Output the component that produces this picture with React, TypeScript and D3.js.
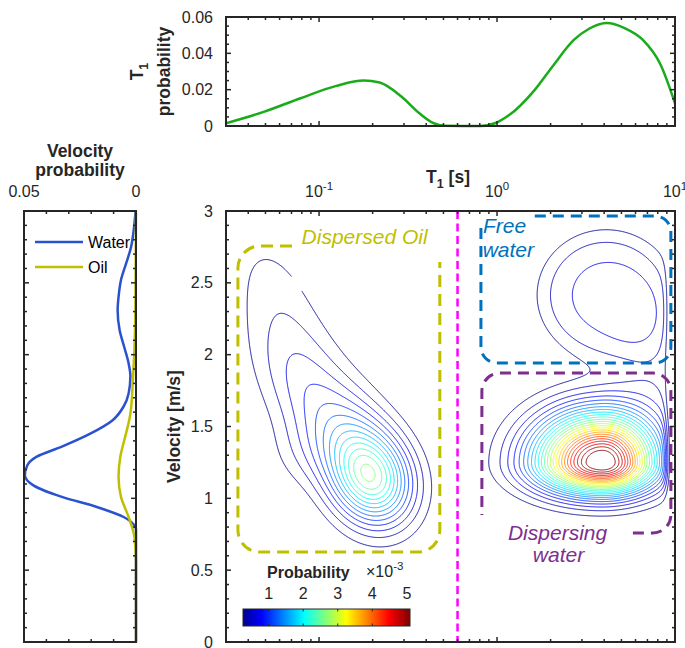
import React, { useMemo } from 'react';
import * as d3 from 'd3';

// ---------- data ----------
// T1 marginal (top panel)
const t1Values = [0.03, 0.0493, 0.0787, 0.125, 0.178, 0.219, 0.29, 0.366, 0.441, 0.507, 0.807, 0.972, 1.17, 1.63, 2.05, 2.71, 3.27, 4.13, 5.21, 6.58, 8.3, 10.0];
const t1Prob = [0.0015, 0.0079, 0.0153, 0.0221, 0.025, 0.0239, 0.0162, 0.007, 0.0015, 0.0002, 0.0, 0.0015, 0.006, 0.0199, 0.0328, 0.0475, 0.0534, 0.0567, 0.0539, 0.0475, 0.0337, 0.0125];

// velocity marginals (left panel), velocity ascending
const waterVel = [0, 0.7, 0.78, 0.8, 0.87, 0.94, 1.01, 1.09, 1.16, 1.23, 1.29, 1.36, 1.45, 1.54, 1.64, 1.73, 1.85, 1.94, 2.05, 2.17, 2.31, 2.4, 2.52, 2.64, 2.75, 2.87, 2.98, 3.0];
const waterProb = [0, 0, 0, 0.0003, 0.0055, 0.0175, 0.0331, 0.0458, 0.0496, 0.0485, 0.0443, 0.0331, 0.0204, 0.0107, 0.0055, 0.0033, 0.0025, 0.0033, 0.0052, 0.0073, 0.0082, 0.0078, 0.0067, 0.0043, 0.0022, 0.001, 0.0003, 0.0002];
const oilVel = [0, 0.55, 0.73, 0.87, 1.01, 1.15, 1.29, 1.43, 1.59, 1.85, 2.0, 2.2, 2.5, 3.0];
const oilProb = [0, 0, 0.0007, 0.0033, 0.0067, 0.0078, 0.007, 0.0048, 0.0025, 0.0013, 0.0008, 0.0004, 0.0002, 0];

// joint density peaks (x10^-3): centre in log10(T1) & velocity, spreads left/right (decades), down/up (m/s)
const peaks = [
  { name: 'oil core', logT1: -0.705, vel: 1.139, wL: 0.1585, wR: 0.1585, hD: 0.2234, hU: 0.2234, rho: -0.152, amp: 2.35, shape: 2 },
  { name: 'oil shoulder', logT1: -0.821, vel: 1.458, wL: 0.161, wR: 0.161, hD: 0.235, hU: 0.235, rho: -0.196, amp: 0.5, shape: 2 },
  { name: 'oil tail', logT1: -1.04, vel: 1.719, wL: 0.225, wR: 0.225, hD: 0.39, hU: 0.39, rho: -0.55, amp: 0.75, shape: 2 },
  { name: 'oil top', logT1: -1.253, vel: 2.499, wL: 0.1855, wR: 0.1855, hD: 0.327, hU: 0.327, rho: -0.423, amp: 0.25, shape: 2 },
  { name: 'oil flank', logT1: -1.107, vel: 1.302, wL: 0.14, wR: 0.14, hD: 0.174, hU: 0.174, rho: 0, amp: 0.18, shape: 2 },
  { name: 'free water', logT1: 0.612, vel: 2.415, wL: 0.326, wR: 0.326, hD: 0.383, hU: 0.383, rho: 0, amp: 0.7, shape: 4 },
  { name: 'dispersing water', logT1: 0.589, vel: 1.253, wL: 0.258, wR: 0.213, hD: 0.153, hU: 0.237, rho: 0, amp: 5.4, shape: 2 },
  { name: 'bridge', logT1: 0.9, vel: 1.95, wL: 0.152, wR: 0.152, hD: 0.3, hU: 0.3, rho: 0, amp: 0.35, shape: 2 },
];
const edgeLogT1 = 0.955;
const edgeWidth = 0.012;
// the outermost oil contour is broken near its top
const contourGap = { t1: 0.0761, vel: 2.5 };

const contourLevels = d3.range(25).map((k) => 0.26 + k * 0.20125);
const colorbarTicks = [1, 2, 3, 4, 5];
const velTicks = [0, 0.5, 1, 1.5, 2, 2.5, 3];
const t1ProbTicks = [0, 0.02, 0.04, 0.06];
const velProbTicks = [0.05, 0];
const t1Domain = [0.03, 10];
const velDomain = [0, 3];
const cutoffT1 = 0.6;

const regions = [
  { id: 'oil', color: '#bfbf00', t1: [0.035, 0.477], vel: [0.626, 2.756], r: 22, from: { t1: 0.0705 }, to: { vel: 2.645 }, dash: '12 7' },
  { id: 'free', color: '#0072bd', t1: [0.812, 9.48], vel: [1.942, 2.965], r: 16, from: { t1: 1.63 }, to: { vel: 2.93 }, dash: '11 7' },
  { id: 'disp', color: '#7e2f8e', t1: [0.822, 9.48], vel: [0.759, 1.872], r: 18, from: { t1: 5.8 }, to: { vel: 0.884 }, dash: '11 7' },
];
const regionLabels = [
  { text: 'Dispersed Oil', color: '#bfbf00', t1: 0.0798, vel: 2.77 },
  { text: 'Free', color: '#0072bd', t1: 0.834, vel: 2.847 },
  { text: 'water', color: '#0072bd', t1: 0.83, vel: 2.68 },
  { text: 'Dispersing', color: '#7e2f8e', t1: 1.152, vel: 0.71 },
  { text: 'water', color: '#7e2f8e', t1: 1.59, vel: 0.557 },
];

const jetStops = [0, 0.111, 0.365, 0.619, 0.873, 1];
const jetColors = ['#00008f', '#0000ff', '#00ffff', '#ffff00', '#ff0000', '#800000'];

// ---------- layout ----------
const MAIN = { left: 226, right: 675, top: 211, bottom: 642 };
const TOP = { left: 226, right: 675, top: 17, bottom: 126 };
const SIDE = { left: 24, right: 136, top: 211, bottom: 642 };
const CB = { left: 243, right: 410, top: 609, bottom: 626 };
const FONT = '"Liberation Sans", Arial, Helvetica, sans-serif';
const INK = '#262626';
const MAJ = 5;
const MIN = 3;

const isDecade = (t: number) => Math.abs(Math.log10(t) - Math.round(Math.log10(t))) < 1e-9;
// smooth switch between the two half-widths of a split peak
const blend = (a: number, b: number, d: number) => a + (b - a) / (1 + Math.exp(-d / 0.025));

export default function App() {
  const xT1 = d3.scaleLog().domain(t1Domain).range([MAIN.left, MAIN.right]);
  const yVel = d3.scaleLinear().domain(velDomain).range([MAIN.bottom, MAIN.top]);
  const yT1Prob = d3.scaleLinear().domain([0, 0.06]).range([TOP.bottom, TOP.top]);
  const xVelProb = d3.scaleLinear().domain([0.05, 0]).range([SIDE.left, SIDE.right]);
  const lo = contourLevels[0];
  const hi = contourLevels[contourLevels.length - 1];
  const jet = d3.scaleLinear<string>().domain(jetStops.map((t) => lo + t * (hi - lo))).range(jetColors).clamp(true);
  const xCb = d3.scaleLinear().domain([lo, hi]).range([CB.left, CB.right]);

  const contours = useMemo(() => {
    const NX = 640, NY = 560;
    const uMin = Math.log10(t1Domain[0]), uMax = Math.log10(t1Domain[1]);
    const values = new Array(NX * NY);
    for (let j = 0; j < NY; j++) {
      const v = velDomain[1] - ((j + 0.5) / NY) * (velDomain[1] - velDomain[0]);
      for (let i = 0; i < NX; i++) {
        const u = uMin + ((i + 0.5) / NX) * (uMax - uMin);
        let f = 0;
        for (const c of peaks) {
          const du = u - c.logT1, dv = v - c.vel;
          const z1 = du / blend(c.wL, c.wR, du);
          const z2 = dv / blend(c.hD, c.hU, dv);
          const q = (z1 * z1 - 2 * c.rho * z1 * z2 + z2 * z2) / (1 - c.rho * c.rho);
          if (q > 60) continue;
          f += c.amp * Math.exp(-0.5 * Math.pow(q, c.shape / 2));
        }
        f *= 1 / (1 + Math.exp((u - edgeLogT1) / edgeWidth));
        values[j * NX + i] = f;
      }
    }
    const gx = d3.scaleLinear().domain([0, NX]).range([uMin, uMax]);
    const gy = d3.scaleLinear().domain([0, NY]).range([velDomain[1], velDomain[0]]);
    const proj = d3.geoTransform({
      point(x: number, y: number) {
        (this as any).stream.point(xT1(Math.pow(10, gx(x))), yVel(gy(y)));
      },
    });
    const path = d3.geoPath(proj);
    return d3.contours().size([NX, NY]).thresholds(contourLevels)(values).map((c) => ({ level: c.value, d: path(c as any) || '' }));
  }, []);

  const t1Line = d3.line<number>().x((_, i) => xT1(t1Values[i])).y((d) => yT1Prob(d)).curve(d3.curveMonotoneX);
  const waterLine = d3.line<number>().x((d) => xVelProb(d)).y((_, i) => yVel(waterVel[i])).curve(d3.curveMonotoneY);
  const oilLine = d3.line<number>().x((d) => xVelProb(d)).y((_, i) => yVel(oilVel[i])).curve(d3.curveMonotoneY);

  const logTicks = xT1.ticks();
  const velMinor = yVel.ticks(30);
  const t1ProbMinor = yT1Prob.ticks(12);
  const velProbMinor = xVelProb.ticks(5);

  const regionPath = (r: typeof regions[number]) => {
    const x0 = xT1(r.t1[0]), x1 = xT1(r.t1[1]);
    const yT = yVel(r.vel[1]), yB = yVel(r.vel[0]);
    const p = d3.path();
    if (r.id === 'oil') {
      p.moveTo(xT1(r.from.t1), yT);
      p.arcTo(x0, yT, x0, yB, r.r);
      p.arcTo(x0, yB, x1, yB, r.r);
      p.arcTo(x1, yB, x1, yT, r.r);
      p.lineTo(x1, yVel(r.to.vel));
    } else if (r.id === 'free') {
      p.moveTo(xT1(r.from.t1), yT);
      p.arcTo(x1, yT, x1, yB, r.r);
      p.arcTo(x1, yB, x0, yB, r.r);
      p.arcTo(x0, yB, x0, yT, r.r);
      p.lineTo(x0, yVel(r.to.vel));
    } else {
      p.moveTo(xT1(r.from.t1), yB);
      p.arcTo(x1, yB, x1, yT, r.r);
      p.arcTo(x1, yT, x0, yT, r.r);
      p.arcTo(x0, yT, x0, yB, r.r);
      p.lineTo(x0, yVel(r.to.vel));
    }
    return p.toString();
  };

  const logLabel = (t: number, x: number, y: number, key: string) => (
    <text key={key} x={x} y={y} textAnchor="middle" fontSize={16} fill={INK}>
      10<tspan dy={-7} fontSize={11.5}>{Math.round(Math.log10(t))}</tspan>
    </text>
  );

  return (
    <svg width={685} height={648} style={{ position: 'absolute', left: 0, top: 0, background: '#fff' }} fontFamily={FONT}>
      <defs>
        <clipPath id="mainClip">
          <rect x={MAIN.left} y={MAIN.top} width={MAIN.right - MAIN.left} height={MAIN.bottom - MAIN.top} />
        </clipPath>
        <clipPath id="topClip">
          <rect x={TOP.left} y={TOP.top - 2} width={TOP.right - TOP.left} height={TOP.bottom - TOP.top + 4} />
        </clipPath>
        <mask id="gapMask" maskUnits="userSpaceOnUse" x={0} y={0} width={685} height={648}>
          <rect x={0} y={0} width={685} height={648} fill="#fff" />
          <circle cx={xT1(contourGap.t1)} cy={yVel(contourGap.vel)} r={9} fill="#000" />
        </mask>
        <linearGradient id="jetGrad" x1="0" x2="1" y1="0" y2="0">
          {jetStops.map((t, i) => (
            <stop key={i} offset={t} stopColor={jetColors[i]} />
          ))}
        </linearGradient>
      </defs>

      {/* ---------- top panel: T1 probability ---------- */}
      <g>
        <path d={t1Line(t1Prob) || ''} fill="none" stroke="#1aab1a" strokeWidth={2.5} clipPath="url(#topClip)" />
        {logTicks.map((t, i) => {
          const x = xT1(t);
          const L = isDecade(t) ? MAJ : MIN;
          return (
            <g key={'tt' + i} stroke={INK} strokeWidth={1.5}>
              <line x1={x} x2={x} y1={TOP.top} y2={TOP.top + L} />
              <line x1={x} x2={x} y1={TOP.bottom} y2={TOP.bottom - L} />
            </g>
          );
        })}
        {t1ProbMinor.map((t, i) => {
          const y = yT1Prob(t);
          const L = t1ProbTicks.some((m) => Math.abs(m - t) < 1e-9) ? MAJ : MIN;
          return (
            <g key={'ty' + i} stroke={INK} strokeWidth={1.5}>
              <line x1={TOP.left} x2={TOP.left + L} y1={y} y2={y} />
              <line x1={TOP.right} x2={TOP.right - L} y1={y} y2={y} />
            </g>
          );
        })}
        <rect x={TOP.left} y={TOP.top} width={TOP.right - TOP.left} height={TOP.bottom - TOP.top} fill="none" stroke={INK} strokeWidth={2} />
        {t1ProbTicks.map((t) => (
          <text key={'tl' + t} x={213} y={yT1Prob(t) + 5.5} textAnchor="end" fontSize={16} fill={INK}>
            {t === 0 ? '0' : t.toFixed(2)}
          </text>
        ))}
        <text transform={`translate(143,${(TOP.top + TOP.bottom) / 2}) rotate(-90)`} textAnchor="middle" fontSize={17.5} fontWeight="bold" fill={INK}>
          T<tspan dy={5} fontSize={12.5}>1</tspan>
        </text>
        <text transform={`translate(170,${(TOP.top + TOP.bottom) / 2}) rotate(-90)`} textAnchor="middle" fontSize={17.5} fontWeight="bold" fill={INK}>
          probability
        </text>
      </g>

      {/* ---------- left panel: velocity probability ---------- */}
      <g>
        <path d={waterLine(waterProb) || ''} fill="none" stroke="#2a52cf" strokeWidth={2.5} />
        <path d={oilLine(oilProb) || ''} fill="none" stroke="#bfbf00" strokeWidth={2.5} />
        {velProbMinor.map((t, i) => {
          const x = xVelProb(t);
          return (
            <g key={'sx' + i} stroke={INK} strokeWidth={1.5}>
              <line x1={x} x2={x} y1={SIDE.top} y2={SIDE.top + MIN} />
              <line x1={x} x2={x} y1={SIDE.bottom} y2={SIDE.bottom - MIN} />
            </g>
          );
        })}
        {velMinor.map((t, i) => {
          const y = yVel(t);
          const L = velTicks.some((m) => Math.abs(m - t) < 1e-9) ? MAJ : MIN;
          return (
            <g key={'sy' + i} stroke={INK} strokeWidth={1.5}>
              <line x1={SIDE.left} x2={SIDE.left + L} y1={y} y2={y} />
              <line x1={SIDE.right} x2={SIDE.right - L} y1={y} y2={y} />
            </g>
          );
        })}
        <rect x={SIDE.left} y={SIDE.top} width={SIDE.right - SIDE.left} height={SIDE.bottom - SIDE.top} fill="none" stroke={INK} strokeWidth={2} />
        {velProbTicks.map((t) => (
          <text key={'sl' + t} x={xVelProb(t)} y={197} textAnchor="middle" fontSize={16} fill={INK}>
            {t === 0 ? '0' : String(t)}
          </text>
        ))}
        <text x={80} y={157} textAnchor="middle" fontSize={17.5} fontWeight="bold" fill={INK}>Velocity</text>
        <text x={80} y={176} textAnchor="middle" fontSize={17.5} fontWeight="bold" fill={INK}>probability</text>
        <line x1={35} x2={83} y1={242} y2={242} stroke="#2a52cf" strokeWidth={2.5} />
        <text x={88} y={248} fontSize={16} fill="#000">Water</text>
        <line x1={35} x2={83} y1={267} y2={267} stroke="#bfbf00" strokeWidth={2.5} />
        <text x={88} y={273} fontSize={16} fill="#000">Oil</text>
      </g>

      {/* ---------- main panel: joint T1 / velocity density ---------- */}
      <g clipPath="url(#mainClip)">
        <g mask="url(#gapMask)">
          {contours.map((c, i) => (
            <path key={'c' + i} d={c.d} fill="none" stroke={jet(c.level)} strokeWidth={0.9} strokeLinejoin="round" />
          ))}
        </g>
      </g>
      {regions.map((r) => (
        <path key={r.id} d={regionPath(r)} fill="none" stroke={r.color} strokeWidth={3} strokeDasharray={r.dash} />
      ))}
      {regionLabels.map((l, i) => (
        <text key={'rl' + i} x={xT1(l.t1)} y={yVel(l.vel)} fontSize={21} fontStyle="italic" fill={l.color}>
          {l.text}
        </text>
      ))}
      <line x1={xT1(cutoffT1)} x2={xT1(cutoffT1)} y1={MAIN.top} y2={MAIN.bottom} stroke="#ff00ff" strokeWidth={2.5} strokeDasharray="8 4.5" />

      {logTicks.map((t, i) => {
        const x = xT1(t);
        const L = isDecade(t) ? MAJ : MIN;
        return (
          <g key={'mx' + i} stroke={INK} strokeWidth={1.5}>
            <line x1={x} x2={x} y1={MAIN.top} y2={MAIN.top + L} />
            <line x1={x} x2={x} y1={MAIN.bottom} y2={MAIN.bottom - L} />
          </g>
        );
      })}
      {velMinor.map((t, i) => {
        const y = yVel(t);
        const L = velTicks.some((m) => Math.abs(m - t) < 1e-9) ? MAJ : MIN;
        return (
          <g key={'my' + i} stroke={INK} strokeWidth={1.5}>
            <line x1={MAIN.left} x2={MAIN.left + L} y1={y} y2={y} />
            <line x1={MAIN.right} x2={MAIN.right - L} y1={y} y2={y} />
          </g>
        );
      })}
      <rect x={MAIN.left} y={MAIN.top} width={MAIN.right - MAIN.left} height={MAIN.bottom - MAIN.top} fill="none" stroke={INK} strokeWidth={2} />
      {velTicks.map((t) => (
        <text key={'vl' + t} x={213} y={yVel(t) + 5.5} textAnchor="end" fontSize={16} fill={INK}>
          {String(t)}
        </text>
      ))}
      {logTicks.filter(isDecade).map((t, i) => logLabel(t, xT1(t), 197, 'll' + i))}
      <text x={448} y={183} textAnchor="middle" fontSize={17.5} fontWeight="bold" fill={INK}>
        T<tspan dy={5} fontSize={12.5}>1</tspan>
        <tspan dy={-5}> [s]</tspan>
      </text>
      <text transform={`translate(180,${(MAIN.top + MAIN.bottom) / 2}) rotate(-90)`} textAnchor="middle" fontSize={17.5} fontWeight="bold" fill={INK}>
        Velocity [m/s]
      </text>

      {/* ---------- colorbar ---------- */}
      <rect x={CB.left} y={CB.top} width={CB.right - CB.left} height={CB.bottom - CB.top} fill="url(#jetGrad)" stroke={INK} strokeWidth={1} />
      {colorbarTicks.map((t) => (
        <g key={'cb' + t}>
          <line x1={xCb(t)} x2={xCb(t)} y1={CB.top} y2={CB.top + 2.5} stroke={INK} strokeWidth={1} />
          <line x1={xCb(t)} x2={xCb(t)} y1={CB.bottom} y2={CB.bottom - 2.5} stroke={INK} strokeWidth={1} />
          <text x={xCb(t)} y={599} textAnchor="middle" fontSize={16} fill={INK}>{t}</text>
        </g>
      ))}
      <text x={267} y={578} fontSize={16} fontWeight="bold" fill={INK}>Probability</text>
      <text x={366} y={577} fontSize={16} fill={INK}>
        ×10<tspan dy={-7} fontSize={11.5}>-3</tspan>
      </text>
    </svg>
  );
}
